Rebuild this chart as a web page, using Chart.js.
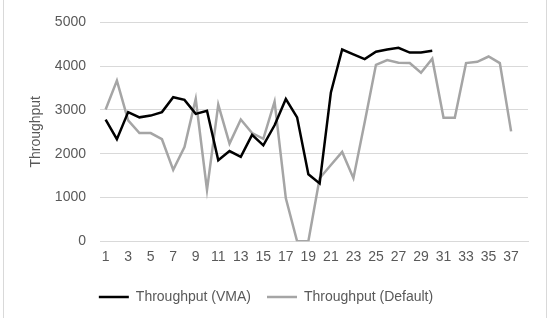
<!DOCTYPE html>
<html>
<head>
<meta charset="utf-8">
<script src="https://cdn.jsdelivr.net/npm/chart.js@4/dist/chart.umd.min.js"></script>
<style>
  html, body { margin: 0; padding: 0; background: #fff; }
  #wrap { position: relative; width: 556px; height: 318px; }
  #frame { position: absolute; left: 3px; top: -2px; width: 544px; height: 330px;
           border: 1px solid #d9d9d9; box-sizing: border-box; pointer-events: none; }
</style>
</head>
<body>
<div id="wrap">
  <canvas id="chart" width="556" height="318"></canvas>
  <div id="frame"></div>
</div>
<script>
// categories 1..38 (last slot stays empty, only odd ones are labelled)
var runLabels = ['1','2','3','4','5','6','7','8','9','10','11','12','13','14','15','16','17','18','19',
    '20','21','22','23','24','25','26','27','28','29','30','31','32','33','34','35','36','37','38'];

var vmaValues = [2780, 2330, 2950, 2830, 2870, 2950, 3290, 3230, 2910, 2980,
    1850, 2060, 1930, 2430, 2190, 2650, 3250, 2830, 1530, 1320,
    3400, 4380, 4270, 4160, 4330, 4380, 4420, 4310, 4310, 4350];

var defaultValues = [3010, 3670, 2760, 2470, 2470, 2330, 1630, 2150, 3250, 1170,
    3120, 2230, 2780, 2470, 2340, 3190, 980, 0, 0, 1440,
    1740, 2040, 1440, 2720, 4030, 4140, 4080, 4070, 3850, 4170,
    2820, 2820, 4070, 4100, 4220, 4070, 2510];

var yTicks = [0, 1000, 2000, 3000, 4000, 5000];

var textColor = '#595959';
var fontFamily = '"Liberation Sans", Arial, sans-serif';

var ctx = document.getElementById('chart').getContext('2d');
new Chart(ctx, {
    type: 'line',
    data: {
        labels: runLabels,
        datasets: [{
            label: 'Throughput (VMA)',
            data: vmaValues,
            borderColor: '#000000',
            backgroundColor: '#000000',
            borderWidth: 2.5,
            pointRadius: 0,
            tension: 0
        }, {
            label: 'Throughput (Default)',
            data: defaultValues,
            borderColor: '#a5a5a5',
            backgroundColor: '#a5a5a5',
            borderWidth: 2.5,
            pointRadius: 0,
            tension: 0
        }]
    },
    options: {
        responsive: false,
        animation: false,
        layout: { padding: { left: 4, right: 28, top: 19, bottom: 4 } },
        plugins: {
            tooltip: { enabled: false },
            legend: {
                position: 'bottom',
                labels: {
                    usePointStyle: true,
                    pointStyle: 'line',
                    pointStyleWidth: 30,
                    padding: 16,
                    color: textColor,
                    font: { family: fontFamily, size: 14 }
                }
            }
        },
        scales: {
            x: {
                offset: true,
                grid: { display: false, drawTicks: false },
                border: { display: true, color: '#d9d9d9', width: 1 },
                ticks: {
                    autoSkip: false,
                    maxRotation: 0,
                    padding: 8,
                    color: textColor,
                    font: { family: fontFamily, size: 14 },
                    callback: function (value, index) {
                        return index % 2 === 0 ? runLabels[index] : '';
                    }
                }
            },
            y: {
                min: 0,
                max: 5000,
                afterBuildTicks: function (axis) {
                    axis.ticks = yTicks.map(function (v) { return { value: v }; });
                },
                afterFit: function (axis) { axis.width = 96; },
                grid: { color: '#d9d9d9', drawTicks: false, lineWidth: 1 },
                border: { display: false },
                title: {
                    display: true,
                    text: 'Throughput',
                    color: textColor,
                    font: { family: fontFamily, size: 14 },
                    padding: { top: 24, bottom: 0 }
                },
                ticks: {
                    padding: 14,
                    color: textColor,
                    font: { family: fontFamily, size: 14 },
                    callback: function (value) { return String(value); }
                }
            }
        }
    }
});
</script>
</body>
</html>
